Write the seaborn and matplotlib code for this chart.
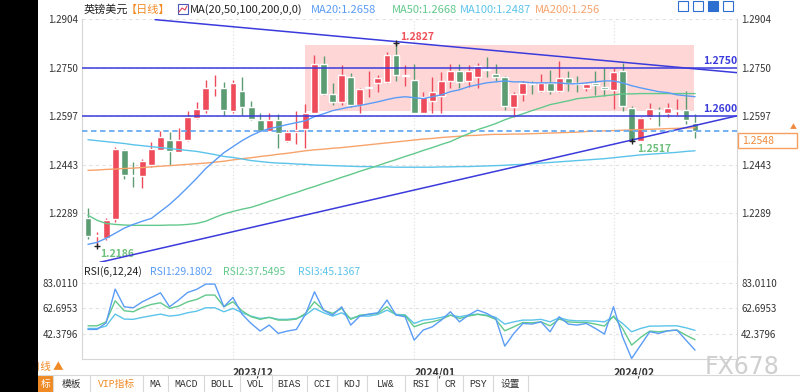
import numpy as np
import pandas as pd
import seaborn as sns
import matplotlib.pyplot as plt
from matplotlib.patches import Rectangle

sns.set_style("white")
plt.rcParams['font.family'] = ['Noto Sans CJK SC', 'DejaVu Sans']

# ---- daily candles GBP/USD (2023-11-09 .. 2024-02-14) ----
opens = [1.2274, 1.2218, 1.2210, 1.2270, 1.2490, 1.2410, 1.2407, 1.2442, 1.2490, 1.2522,
         1.2484, 1.2522, 1.2591, 1.2617, 1.2686, 1.2685, 1.2612, 1.2675, 1.2624, 1.2584,
         1.2551, 1.2584, 1.2518, 1.2547, 1.2556, 1.2608, 1.2761, 1.2666, 1.2640, 1.2722,
         1.2633, 1.2685, 1.2700, 1.2706, 1.2790, 1.2725, 1.2711, 1.2608, 1.2643, 1.2660,
         1.2708, 1.2740, 1.2707, 1.2721, 1.2745, 1.2729, 1.2719, 1.2626, 1.2666, 1.2699,
         1.2675, 1.2703, 1.2675, 1.2717, 1.2700, 1.2685, 1.2703, 1.2689, 1.2679, 1.2738,
         1.2622, 1.2519, 1.2595, 1.2614, 1.2608, 1.2613, 1.2616, 1.2574]
highs = [1.2305, 1.2230, 1.2273, 1.2500, 1.2493, 1.2451, 1.2461, 1.2514, 1.2551, 1.2545,
         1.2559, 1.2612, 1.2640, 1.2712, 1.2727, 1.2706, 1.2711, 1.2721, 1.2643, 1.2608,
         1.2608, 1.2603, 1.2552, 1.2612, 1.2635, 1.2790, 1.2787, 1.2701, 1.2758, 1.2733,
         1.2685, 1.2740, 1.2726, 1.2798, 1.2827, 1.2758, 1.2761, 1.2672, 1.2719, 1.2735,
         1.2761, 1.2761, 1.2758, 1.2766, 1.2784, 1.2761, 1.2724, 1.2672, 1.2708, 1.2708,
         1.2729, 1.2742, 1.2772, 1.2740, 1.2724, 1.2703, 1.2740, 1.2750, 1.2750, 1.2766,
         1.2630, 1.2595, 1.2637, 1.2624, 1.2637, 1.2651, 1.2677, 1.2603]
lows = [1.2207, 1.2186, 1.2204, 1.2261, 1.2398, 1.2372, 1.2369, 1.2437, 1.2488, 1.2443,
        1.2482, 1.2519, 1.2588, 1.2605, 1.2661, 1.2601, 1.2608, 1.2601, 1.2584, 1.2548,
        1.2548, 1.2496, 1.2515, 1.2509, 1.2496, 1.2605, 1.2664, 1.2633, 1.2633, 1.2624,
        1.2608, 1.2656, 1.2672, 1.2703, 1.2708, 1.2693, 1.2606, 1.2606, 1.2605, 1.2608,
        1.2687, 1.2687, 1.2689, 1.2687, 1.2719, 1.2708, 1.2616, 1.2593, 1.2643, 1.2666,
        1.2672, 1.2666, 1.2672, 1.2677, 1.2672, 1.2677, 1.2664, 1.2661, 1.2619, 1.2614,
        1.2517, 1.2520, 1.2588, 1.2566, 1.2595, 1.2601, 1.2572, 1.2528]
closes = [1.2216, 1.2222, 1.2267, 1.2493, 1.2411, 1.2407, 1.2456, 1.2493, 1.2530, 1.2485,
          1.2522, 1.2595, 1.2619, 1.2685, 1.2690, 1.2616, 1.2703, 1.2626, 1.2588, 1.2551,
          1.2584, 1.2542, 1.2547, 1.2553, 1.2608, 1.2761, 1.2668, 1.2640, 1.2726, 1.2633,
          1.2682, 1.2689, 1.2717, 1.2790, 1.2727, 1.2728, 1.2608, 1.2656, 1.2672, 1.2708,
          1.2740, 1.2706, 1.2738, 1.2756, 1.2742, 1.2721, 1.2630, 1.2666, 1.2703, 1.2697,
          1.2703, 1.2675, 1.2717, 1.2703, 1.2698, 1.2698, 1.2696, 1.2682, 1.2735, 1.2630,
          1.2519, 1.2591, 1.2619, 1.2612, 1.2621, 1.2616, 1.2584, 1.2548]

# moving averages
ma20 = [1.2191, 1.2197, 1.2210, 1.2226, 1.2242, 1.2254, 1.2264, 1.2273, 1.2295, 1.2317,
        1.2343, 1.2371, 1.2400, 1.2431, 1.2456, 1.2481, 1.2500, 1.2519, 1.2535, 1.2548,
        1.2557, 1.2563, 1.2570, 1.2576, 1.2582, 1.2595, 1.2604, 1.2614, 1.2620, 1.2626,
        1.2630, 1.2636, 1.2642, 1.2649, 1.2655, 1.2658, 1.2655, 1.2652, 1.2658, 1.2664,
        1.2674, 1.2680, 1.2690, 1.2696, 1.2702, 1.2705, 1.2708, 1.2705, 1.2705, 1.2702,
        1.2702, 1.2702, 1.2702, 1.2699, 1.2699, 1.2702, 1.2705, 1.2708, 1.2708, 1.2702,
        1.2693, 1.2686, 1.2680, 1.2674, 1.2671, 1.2664, 1.2661, 1.2658]
ma50 = [1.2283, 1.2267, 1.2257, 1.2254, 1.2252, 1.2251, 1.2251, 1.2251, 1.2251, 1.2252,
        1.2252, 1.2254, 1.2257, 1.2264, 1.2276, 1.2287, 1.2295, 1.2302, 1.2308, 1.2317,
        1.2327, 1.2336, 1.2346, 1.2355, 1.2365, 1.2374, 1.2384, 1.2393, 1.2403, 1.2412,
        1.2422, 1.2431, 1.2440, 1.2450, 1.2459, 1.2469, 1.2478, 1.2488, 1.2497, 1.2507,
        1.2516, 1.2529, 1.2541, 1.2554, 1.2563, 1.2573, 1.2585, 1.2595, 1.2604, 1.2614,
        1.2623, 1.2633, 1.2639, 1.2645, 1.2652, 1.2655, 1.2658, 1.2661, 1.2664, 1.2667,
        1.2667, 1.2668, 1.2668, 1.2668, 1.2668, 1.2668, 1.2668, 1.2668]
ma100 = [1.2522, 1.2519, 1.2516, 1.2513, 1.2510, 1.2506, 1.2503, 1.2500, 1.2497, 1.2494,
         1.2491, 1.2488, 1.2485, 1.2480, 1.2475, 1.2469, 1.2466, 1.2461, 1.2456, 1.2453,
         1.2450, 1.2448, 1.2447, 1.2445, 1.2444, 1.2442, 1.2441, 1.2440, 1.2439, 1.2438,
         1.2437, 1.2437, 1.2436, 1.2436, 1.2435, 1.2435, 1.2435, 1.2435, 1.2435, 1.2436,
         1.2436, 1.2437, 1.2437, 1.2438, 1.2439, 1.2440, 1.2441, 1.2443, 1.2444, 1.2446,
         1.2448, 1.2450, 1.2452, 1.2454, 1.2456, 1.2458, 1.2460, 1.2462, 1.2465, 1.2468,
         1.2471, 1.2474, 1.2476, 1.2478, 1.2480, 1.2482, 1.2485, 1.2487]
ma200 = [1.2425, 1.2426, 1.2428, 1.2429, 1.2431, 1.2432, 1.2434, 1.2436, 1.2438, 1.2440,
         1.2442, 1.2444, 1.2446, 1.2448, 1.2451, 1.2454, 1.2458, 1.2462, 1.2465, 1.2469,
         1.2472, 1.2476, 1.2479, 1.2483, 1.2487, 1.2490, 1.2492, 1.2495, 1.2497, 1.2500,
         1.2503, 1.2506, 1.2509, 1.2512, 1.2515, 1.2518, 1.2521, 1.2524, 1.2526, 1.2529,
         1.2531, 1.2533, 1.2535, 1.2536, 1.2538, 1.2539, 1.2539, 1.2540, 1.2540, 1.2541,
         1.2542, 1.2543, 1.2544, 1.2545, 1.2546, 1.2548, 1.2549, 1.2550, 1.2551, 1.2552,
         1.2553, 1.2554, 1.2555, 1.2556, 1.2557, 1.2558, 1.2559, 1.2560]

# RSI(6,12,24)
rsi1 = [45.8, 45.8, 51.1, 78.2, 64.0, 63.2, 68.0, 71.5, 75.2, 64.0,
        69.4, 75.5, 78.0, 82.2, 82.2, 64.0, 71.5, 58.1, 50.6, 44.5,
        49.3, 42.6, 44.5, 45.8, 57.9, 76.0, 61.3, 57.3, 64.0, 49.3,
        56.5, 58.1, 59.2, 69.4, 57.3, 56.0, 37.2, 45.3, 47.9, 53.3,
        60.0, 51.9, 57.3, 61.3, 58.7, 54.6, 32.4, 42.6, 50.6, 50.1,
        51.9, 43.9, 56.0, 50.1, 49.3, 50.6, 46.6, 42.1, 64.0, 39.9,
        22.5, 33.2, 43.9, 42.6, 44.7, 45.3, 37.2, 29.2]
rsi2 = [48.7, 48.7, 51.9, 68.8, 60.8, 60.0, 63.5, 65.9, 67.2, 62.7,
        64.5, 68.0, 69.9, 73.4, 73.4, 64.0, 68.0, 60.8, 56.0, 53.9,
        55.5, 53.3, 53.3, 54.1, 58.7, 68.0, 61.3, 58.7, 62.7, 53.9,
        57.3, 57.9, 58.7, 64.0, 57.3, 57.0, 47.9, 50.6, 51.9, 53.9,
        57.3, 54.6, 56.5, 57.9, 56.8, 53.9, 44.7, 47.9, 51.4, 51.1,
        51.9, 48.7, 54.1, 51.9, 51.4, 51.4, 50.1, 48.5, 56.5, 46.6,
        33.2, 39.4, 44.5, 43.9, 44.7, 45.3, 41.2, 37.5]
rsi3 = [46.6, 46.6, 48.5, 58.1, 54.1, 53.9, 55.5, 56.8, 58.1, 56.5,
        57.3, 59.2, 60.5, 63.2, 63.2, 60.0, 62.7, 59.2, 56.5, 54.6,
        55.5, 53.9, 53.9, 54.6, 57.3, 62.7, 59.2, 56.5, 59.2, 54.6,
        56.5, 56.5, 57.9, 61.3, 57.9, 57.5, 50.6, 53.3, 54.1, 55.5,
        57.3, 56.0, 57.3, 58.1, 57.3, 55.5, 50.1, 51.9, 53.3, 53.3,
        53.9, 51.9, 55.2, 53.3, 52.7, 52.7, 52.5, 51.9, 56.0, 50.6,
        43.9, 46.6, 48.5, 48.5, 48.7, 48.7, 47.1, 45.1]

price_ticks = [1.2904, 1.2750, 1.2597, 1.2443, 1.2289]
rsi_ticks = [83.0110, 62.6953, 42.3796]
month_idx = [16, 36, 58]
month_labels = ["2023/12", "2024/01", "2024/02"]

levels = [1.2750, 1.2598]
level_labels = ["1.2750", "1.2600"]
last_price = 1.2548
zone_x = [23.95, 66.9]
zone_y = [1.2614, 1.2822]
down_x, down_y = [7.4, 71.7], [1.2902, 1.2734]
up_x, up_y = [1.3, 71.7], [1.2134, 1.2598]
extremes_idx = [1, 34, 60]
extremes_val = [1.2186, 1.2827, 1.2517]

df = pd.DataFrame({"o": opens, "h": highs, "l": lows, "c": closes,
                   "ma20": ma20, "ma50": ma50, "ma100": ma100, "ma200": ma200,
                   "rsi1": rsi1, "rsi2": rsi2, "rsi3": rsi3})
df["idx"] = np.arange(len(df))

RED, GRN = "#ee4c5b", "#5c9c72"
C20, C50, C100, C200 = "#5b9cf6", "#62c98c", "#5cc4ea", "#f7a36c"
LINE = "#3b3bdc"

W, H = 800, 392
fig = plt.figure(figsize=(8, 3.92), dpi=100)


def box(x0, y0, x1, y1):
    return [x0 / W, 1 - y1 / H, (x1 - x0) / W, (y1 - y0) / H]


ax = fig.add_axes(box(82, 19, 737, 262))
ax2 = fig.add_axes(box(82, 262, 737, 359), sharex=ax)
xlim = (-0.66, 71.63)

# ---- main price panel ----
ax.set_axisbelow(True)
ax.add_patch(Rectangle((zone_x[0], zone_y[0]), zone_x[1] - zone_x[0], zone_y[1] - zone_y[0],
                       facecolor="#ffd6d6", edgecolor="none", zorder=0.6))

up = df["c"] >= df["o"]
cols = np.where(up, RED, GRN)
body_lo = df[["o", "c"]].min(axis=1)
body_h = (df["c"] - df["o"]).abs().clip(lower=0.0003)
ax.vlines(df["idx"], df["l"], df["h"], colors=cols, lw=1, zorder=3)
ax.bar(df["idx"], body_h, bottom=body_lo, width=0.76, color=cols, zorder=3)

for col, c in [("ma200", C200), ("ma100", C100), ("ma50", C50), ("ma20", C20)]:
    sns.lineplot(data=df, x="idx", y=col, ax=ax, color=c, lw=1, legend=False, zorder=4)

for lv in levels:
    ax.axhline(lv, color=LINE, lw=1.1, zorder=5)
ax.plot(down_x, down_y, color=LINE, lw=1.1, zorder=5)
ax.plot(up_x, up_y, color=LINE, lw=1.1, zorder=5)
ax.axhline(last_price, color="#69aaf2", lw=1.3, ls=(0, (3, 2)), zorder=5)

ax.plot(extremes_idx, extremes_val, ls="none", marker="+", ms=5, mew=1, color="#222222", zorder=6)
ax.text(1.3, 1.2160, "1.2186", color="#6cc07c", fontsize=7.5, fontweight="bold", va="center")
ax.text(34.4, 1.2847, "1.2827", color="#f0505a", fontsize=7.5, fontweight="bold", va="center")
ax.text(60.6, 1.2494, "1.2517", color="#6cc07c", fontsize=7.5, fontweight="bold", va="center")
for lv, lab in zip(levels, level_labels):
    ax.text(67.9, lv + 0.0020, lab, color=LINE, fontsize=7.5, fontweight="bold",
            va="center", clip_on=False)

ax.set_xlim(*xlim)
ax.set_ylim(1.2135, 1.2904)
ax.set_yticks(price_ticks)
ax.set_yticklabels([f"{t:.4f}" for t in price_ticks])
ax.tick_params(axis="y", length=0, labelleft=True, labelright=True, labelsize=7,
               colors="#333333", pad=3)
ax.tick_params(axis="x", length=0, labelbottom=False)
ax.grid(axis="y", ls=(0, (3, 3)), color="#e2e2e2", lw=0.8)
for m in month_idx:
    ax.axvline(m, ls=(0, (1, 2)), color="#dddddd", lw=0.8, zorder=0.5)
ax.set_xlabel("")
ax.set_ylabel("")
ax.spines["top"].set_visible(False)
for s in ["left", "right", "bottom"]:
    ax.spines[s].set_color("#d6d6d6")
    ax.spines[s].set_linewidth(0.8)

# ---- RSI panel ----
for col, c in [("rsi3", C100), ("rsi2", C50), ("rsi1", C20)]:
    sns.lineplot(data=df, x="idx", y=col, ax=ax2, color=c, lw=1, legend=False)
ax2.set_ylim(22.06, 99.95)
ax2.set_yticks(rsi_ticks)
ax2.set_yticklabels([f"{t:.4f}" for t in rsi_ticks])
ax2.tick_params(axis="y", length=0, labelleft=True, labelright=True, labelsize=7,
                colors="#333333", pad=3)
ax2.set_xticks(month_idx)
ax2.set_xticklabels(month_labels)
ax2.tick_params(axis="x", length=4, width=0.8, color="#bbbbbb", labelsize=7.5,
                labelcolor="#333333", pad=2)
for lbl in ax2.get_xticklabels():
    lbl.set_ha("left")
    lbl.set_fontweight("bold")
ax2.grid(axis="y", ls=(0, (3, 3)), color="#e2e2e2", lw=0.8)
for m in month_idx:
    ax2.axvline(m, ls=(0, (1, 2)), color="#dddddd", lw=0.8, zorder=0.5)
ax2.set_xlabel("")
ax2.set_ylabel("")
ax2.spines["top"].set_visible(False)
for s in ["left", "right", "bottom"]:
    ax2.spines[s].set_color("#d6d6d6")
    ax2.spines[s].set_linewidth(0.8)
ax2.set_xlim(*xlim)

# ---- screen decorations (pixel coordinates) ----
deco = fig.add_axes([0, 0, 1, 1], zorder=10)
deco.set_xlim(0, W)
deco.set_ylim(H, 0)
deco.axis("off")
deco.patch.set_alpha(0)


def t(x, y, s, **kw):
    kw.setdefault("fontsize", 8)
    kw.setdefault("va", "center")
    deco.text(x, y, s, **kw)


# title row
t(84, 10, "英镑美元", color="#222222")
t(126, 10, "【日线】", color="#f08a24")
deco.add_patch(Rectangle((178, 4), 10, 10, facecolor="white", edgecolor="#4a5ab8", lw=0.8))
deco.plot([179, 182, 185, 187], [12, 8, 10, 6], color="#e0405a", lw=0.8)
t(190, 10, "MA(20,50,100,200,0,0)", color="#222222")
t(311, 10, "MA20:1.2658", color=C20)
t(392, 10, "MA50:1.2668", color=C50)
t(460, 10, "MA100:1.2487", color=C100)
t(535, 10, "MA200:1.256", color=C200)
for i, x0 in enumerate([678, 693, 708, 723]):
    fc = "#2d6fd0" if i == 2 else "white"
    deco.add_patch(Rectangle((x0, 1), 10, 10, facecolor=fc, edgecolor="#2d6fd0", lw=0.8))

# RSI header
t(84, 272, "RSI(6,12,24)", color="#222222", fontsize=7.5)
t(150, 272, "RSI1:29.1802", color=C20, fontsize=7.5)
t(223, 272, "RSI2:37.5495", color=C50, fontsize=7.5)
t(298, 272, "RSI3:45.1367", color=C100, fontsize=7.5)

# last price tag
deco.add_patch(Rectangle((738, 133), 59, 15, facecolor="white", edgecolor="#f5a060", lw=1))
t(742, 140.5, "1.2548", color="#f08a3c", fontsize=7.5)
t(790, 127, "▲", color="#f08a3c", fontsize=5)

# watermark
t(742, 367, "FX678", color="#cfcfcf", fontsize=17, ha="center", family="DejaVu Sans")

# bottom bar
t(30, 367, "日线 ▲", color="#f08a24", fontsize=7.5)
deco.plot([38, 800], [375, 375], color="#d8d8d8", lw=0.8)
tabs = ["标", "模板", "VIP指标", "MA", "MACD", "BOLL", "VOL", "BIAS", "CCI", "KDJ",
        "LW&", "RSI", "CR", "PSY", "设置"]
edges = [38, 53, 90, 143, 168, 204, 240, 272, 307, 337, 367, 405, 437, 463, 493, 528]
deco.add_patch(Rectangle((38, 375), 15, 17, facecolor="#f08a24", edgecolor="none"))
for i, lab in enumerate(tabs):
    cx = (edges[i] + edges[i + 1]) / 2
    col = "white" if i == 0 else ("#f08a24" if i == 2 else "#333333")
    t(cx, 384, lab, color=col, fontsize=7, ha="center",
      family=["Liberation Mono", "Noto Sans CJK SC"])
for e in edges[1:]:
    deco.plot([e, e], [375, 392], color="#d8d8d8", lw=0.8)

# black strip on the left
deco.add_patch(Rectangle((0, 0), 38, H, facecolor="black", edgecolor="none", zorder=20))

fig.savefig("out.png", dpi=100)
